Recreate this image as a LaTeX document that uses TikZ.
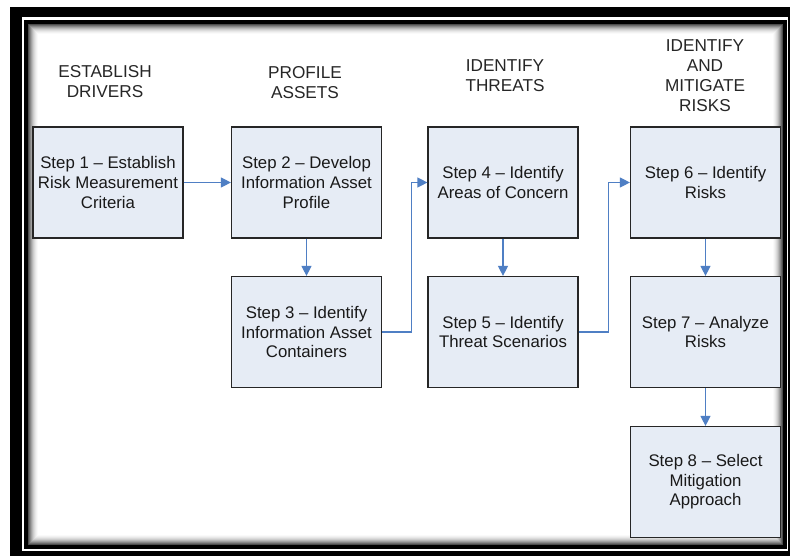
\documentclass[tikz,border=0pt]{standalone}
\usepackage{fontspec}
\setmainfont{Liberation Sans}
\usetikzlibrary{arrows.meta}
\definecolor{boxfill}{HTML}{E6ECF5}
\definecolor{arrowblue}{HTML}{4F7FC4}
\begin{document}
\begin{tikzpicture}[x=1pt,y=-1pt,
  stepbox/.style={draw=black!85, line width=1.2pt, fill=boxfill, minimum width=150pt, minimum height=111pt, align=center, font=\fontsize{16.8}{19.6}\selectfont, text=black!90, inner sep=0pt},
  head/.style={align=center, font=\fontsize{17.2}{20}\selectfont, text=black!85},
  flow/.style={draw=arrowblue, line width=1.2pt, -{Triangle[length=10pt,width=10pt]}}]
\useasboundingbox (0,0) rectangle (790,556);
\fill[white] (0,0) rectangle (790,556);
% frame
\fill[black] (10,7) rectangle (790,556);
\fill[white] (22,17) rectangle (788,551);
\fill[black] (24,20) rectangle (787,549);
\foreach \i/\c in {0/70,1/58,2/47,3/37,4/28,5/20,6/14,7/9,8/5,9/2,10/0}
  \fill[black!\c] (28+\i,24+\i) rectangle (783-\i,545-\i);
% headers
\node[head] (h1) at (105,81.5) {ESTABLISH\\DRIVERS};
\node[head] (h2) at (305,83) {PROFILE\\ASSETS};
\node[head] (h3) at (505,76) {IDENTIFY\\THREATS};
\node[head] (h4) at (705,75.5) {IDENTIFY\\AND\\MITIGATE\\RISKS};
% steps
\node[stepbox] (s1) at (108,182.5) {Step 1 -- Establish\\Risk Measurement\\Criteria};
\node[stepbox] (s2) at (306.5,182.5) {Step 2 -- Develop\\Information Asset\\Profile};
\node[stepbox] (s3) at (306.5,332) {Step 3 -- Identify\\Information Asset\\Containers};
\node[stepbox] (s4) at (503,182.5) {Step 4 -- Identify\\Areas of Concern};
\node[stepbox] (s5) at (503,332) {Step 5 -- Identify\\Threat Scenarios};
\node[stepbox] (s6) at (705.5,182.5) {Step 6 -- Identify\\Risks};
\node[stepbox] (s7) at (705.5,332) {Step 7 -- Analyze\\Risks};
\node[stepbox] (s8) at (705.5,482) {Step 8 -- Select\\Mitigation\\Approach};
% connectors
\draw[flow] (s1) -- (s2);
\draw[flow] (s2) -- (s3);
\draw[flow] (s3.east) -- ++(29,0) |- (s4.west);
\draw[flow] (s4) -- (s5);
\draw[flow] (s5.east) -- ++(30,0) |- (s6.west);
\draw[flow] (s6) -- (s7);
\draw[flow] (s7) -- (s8);
\end{tikzpicture}
\end{document}
